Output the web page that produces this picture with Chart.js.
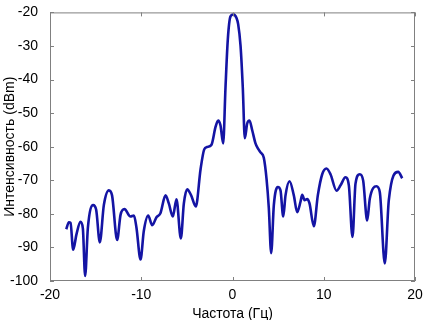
<!DOCTYPE html>
<html>
<head>
<meta charset="utf-8">
<script src="https://cdn.jsdelivr.net/npm/chart.js@4/dist/chart.umd.min.js"></script>
<style>
  html, body { margin: 0; padding: 0; background: #fff; }
  #wrap { width: 426px; height: 320px; }
</style>
</head>
<body>
<div id="wrap"><canvas id="spectrum"></canvas></div>
<script>
// frequency (Hz) and intensity (dBm)
const freq = [
  -18.22, -17.93, -17.75, -17.46, -17.1, -16.66, -16.4, -16.15, -15.85, -15.27,
  -14.94, -14.54, -14.1, -13.55, -13.2, -12.64, -12.27, -11.84, -11.18, -10.8,
  -10.52, -10.08, -9.72, -9.24, -8.8, -8.33, -7.9, -7.34, -6.98, -6.54,
  -6.14, -5.66, -5.33, -4.97, -4.53, -4.02, -3.5, -3.1, -2.8, -2.3,
  -1.86, -1.57, -1.32, -1.02, -0.77, -0.51, -0.22, 0.1, 0.44, 0.62,
  0.88, 1.13, 1.35, 1.61, 1.86, 2.16, 2.52, 2.8, 3.07, 3.43,
  3.73, 3.98, 4.24, 4.53, 4.97, 5.26, 5.56, 5.81, 6.25, 6.72,
  7.09, 7.45, 7.64, 7.89, 8.18, 8.44, 8.91, 9.35, 9.83, 10.3,
  10.74, 11.4, 11.84, 12.38, 12.75, 13.15, 13.48, 13.95, 14.32, 14.76,
  15.05, 15.78, 16.14, 16.69, 17.13, 18.16, 18.6
];
const intensity = [
  -84.6, -82.5, -82.7, -90.7, -86.1, -82.4, -84.3, -98.5, -84.2, -77.4,
  -78.8, -88.5, -77.4, -73.0, -74.5, -87.8, -80.3, -78.6, -80.8, -80.5,
  -84.2, -93.6, -85.1, -80.5, -83.4, -81.0, -79.8, -74.5, -76.9, -80.8,
  -75.7, -87.3, -76.9, -72.7, -74.5, -77.8, -66.7, -60.8, -60.1, -59.4,
  -54.1, -52.2, -53.6, -59.0, -42.5, -27.9, -21.2, -20.6, -21.7, -23.5,
  -29.9, -42.5, -57.5, -53.1, -52.2, -55.1, -59.0, -60.6, -61.7, -63.3,
  -69.6, -78.3, -91.7, -77.4, -72.0, -73.0, -80.8, -74.5, -70.3, -74.5,
  -79.5, -76.4, -74.3, -75.9, -75.6, -76.9, -83.7, -74.5, -68.2, -66.5,
  -68.2, -73.1, -71.5, -69.1, -71.5, -86.9, -71.0, -68.2, -70.1, -82.0,
  -75.4, -71.8, -73.5, -94.8, -75.9, -67.5, -69.4
];
const xTicks = [-20, -10, 0, 10, 20];
const yTicks = [-100, -90, -80, -70, -60, -50, -40, -30, -20];

const points = freq.map((f, i) => ({ x: f, y: intensity[i] }));

// matlab-like box with inward ticks on all four sides
const boxPlugin = {
  id: 'box',
  afterDraw(chart) {
    const { ctx, chartArea: a, scales } = chart;
    ctx.save();
    ctx.strokeStyle = '#808080';
    ctx.lineWidth = 1;
    ctx.strokeRect(a.left + 0.5, a.top + 0.5, a.right - a.left - 1, a.bottom - a.top - 1);
    ctx.beginPath();
    xTicks.forEach(v => {
      const px = Math.round(scales.x.getPixelForValue(v)) + 0.5;
      ctx.moveTo(px, a.bottom); ctx.lineTo(px, a.bottom - 4);
      ctx.moveTo(px, a.top); ctx.lineTo(px, a.top + 4);
    });
    yTicks.forEach(v => {
      const py = Math.round(scales.y.getPixelForValue(v)) + 0.5;
      ctx.moveTo(a.left, py); ctx.lineTo(a.left + 4, py);
      ctx.moveTo(a.right, py); ctx.lineTo(a.right - 4, py);
    });
    ctx.stroke();
    ctx.restore();
  }
};

const font = { family: 'Liberation Sans, Arial, sans-serif', size: 14 };

new Chart(document.getElementById('spectrum'), {
  type: 'line',
  data: {
    datasets: [{
      data: points,
      borderColor: '#1414a4',
      borderWidth: 2.6,
      pointRadius: 0,
      cubicInterpolationMode: 'monotone',
      fill: false
    }]
  },
  options: {
    responsive: true,
    maintainAspectRatio: false,
    animation: false,
    layout: { padding: { top: 6, right: 11, left: 0, bottom: 0 } },
    plugins: { legend: { display: false }, tooltip: { enabled: false } },
    scales: {
      x: {
        type: 'linear',
        min: -20, max: 20,
        afterBuildTicks: s => { s.ticks = xTicks.map(v => ({ value: v })); },
        afterFit: s => { s.height = 39; },
        grid: { display: false },
        border: { display: false },
        ticks: { color: '#000', font, padding: -2, maxRotation: 0 },
        title: { display: true, text: 'Частота (Гц)', color: '#000', font, padding: { top: 0, bottom: -3 } }
      },
      y: {
        min: -100, max: -20,
        afterBuildTicks: s => { s.ticks = yTicks.map(v => ({ value: v })); },
        afterFit: s => { s.width = 50; },
        grid: { display: false },
        border: { display: false },
        ticks: { color: '#000', font, padding: 4 },
        title: { display: true, text: 'Интенсивность (dBm)', color: '#000', font, padding: { top: 2, bottom: 0 } }
      }
    }
  },
  plugins: [boxPlugin]
});
</script>
</body>
</html>
